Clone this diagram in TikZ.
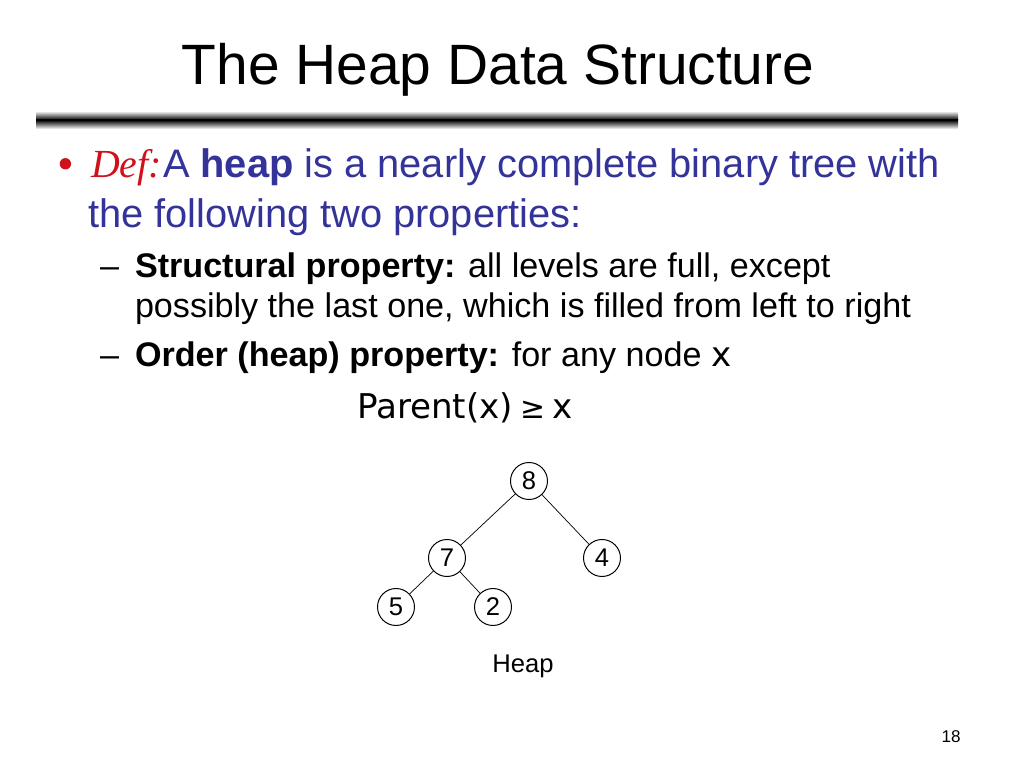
\documentclass[tikz,border=0pt]{standalone}
\usepackage{fontspec}
\setmainfont{Liberation Sans}
\newfontfamily\serifit{Liberation Serif}
\newfontfamily\comic{DejaVu Sans}
\usetikzlibrary{positioning}
\definecolor{bodyblue}{HTML}{333399}
\definecolor{defred}{HTML}{D0101A}
\tikzset{
  txt/.style={anchor=base west, inner sep=0pt, outer sep=0pt},
  hnode/.style={circle, draw=black, line width=0.7pt, minimum size=26pt, inner sep=0pt, font=\fontsize{18}{20}\selectfont},
  edge/.style={draw=black, line width=0.5pt}
}
\begin{document}
\begin{tikzpicture}[x=0.703125pt, y=-0.703125pt]
\useasboundingbox (0,0) rectangle (1024,768);
\fill[white] (0,0) rectangle (1024,768);
% title
\node[anchor=base, inner sep=0pt] (title) at (498,85) {\fontsize{40}{46}\selectfont The Heap Data Structure};
% rule bar
\shade[top color=white, bottom color=black] (36,111) rectangle (958,120);
\shade[top color=black, bottom color=white] (36,120) rectangle (958,129);
% bullet line 1
\node[txt, text=defred] (def) at (91,178) {\fontsize{28}{32}\selectfont\serifit\itshape Def:};
\node[circle, fill=defred, inner sep=0pt, minimum size=8pt] (bul) at ([xshift=-18pt, yshift=10pt]def.base west) {};
\node[txt, text=bodyblue] (l1) at (163,178) {\fontsize{28}{34}\selectfont A \textbf{heap} is a nearly complete binary tree with};
\node[txt, text=bodyblue] (l2) at (88,228) {\fontsize{28}{34}\selectfont the following two properties:};
% sub bullets
\node[txt] (d1) at (100,278) {\fontsize{24}{28}\selectfont –};
\node[txt] (s1) at (135,278) {\fontsize{24}{28}\selectfont \textbf{Structural property:} all levels are full, except};
\node[txt] (s1b) at (135,318) {\fontsize{24}{28}\selectfont possibly the last one, which is filled from left to right};
\node[txt] (d2) at (100,366) {\fontsize{24}{28}\selectfont –};
\node[txt] (s2) at (135,366) {\fontsize{24}{28}\selectfont \textbf{Order (heap) property:} for any node \comic x};
\node[txt] (par) at (357,418) {\fontsize{24}{28}\selectfont\comic Parent(x)\hspace{5pt}{\fontsize{21}{24}\selectfont ≥}\hspace{5pt}x};
% tree
\node[hnode] (n8) at (529,481) {8};
\node[hnode] (n7) at (447,558) {7};
\node[hnode] (n4) at (602,558) {4};
\node[hnode] (n5) at (396,607) {5};
\node[hnode] (n2) at (493,607) {2};
\draw[edge] (n8) -- (n7);
\draw[edge] (n8) -- (n4);
\draw[edge] (n7) -- (n5);
\draw[edge] (n7) -- (n2);
\node[anchor=base, inner sep=0pt] (heap) at (523,672) {\fontsize{18}{20}\selectfont Heap};
\node[anchor=base, inner sep=0pt] (pg) at (951,742) {\fontsize{12}{14}\selectfont 18};
\end{tikzpicture}
\end{document}
